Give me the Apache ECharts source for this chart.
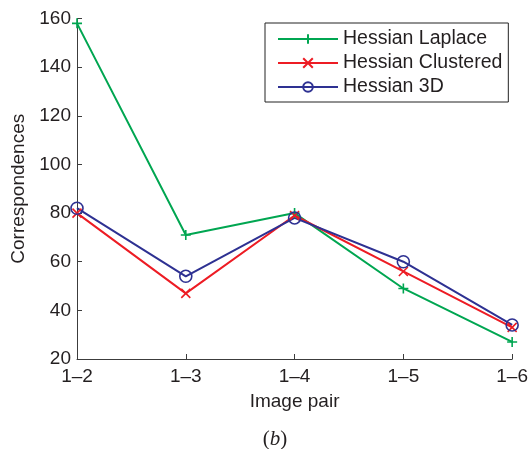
<!DOCTYPE html>
<html>
<head>
<meta charset="utf-8">
<script src="https://cdn.jsdelivr.net/npm/echarts@6/dist/echarts.min.js"></script>
<style>
html,body{margin:0;padding:0;background:#fff;}
#chart{width:531px;height:449px;}
</style>
</head>
<body>
<div id="chart"></div>
<script>
const categories = ['1\u20132', '1\u20133', '1\u20134', '1\u20135', '1\u20136'];
const hessianLaplace = [158, 71, 80, 49, 27];
const hessianClustered = [80, 47, 79, 56, 33];
const hessian3D = [82, 54, 78, 60, 34];
const seriesNames = ['Hessian Laplace', 'Hessian Clustered', 'Hessian 3D'];

const TXT = '#231f20';
const AX = '#3c3c3c';
const FONT = '"Liberation Sans", Arial, sans-serif';

function mkSeries(name, data, color, symbol, size) {
  return {
    name: name,
    type: 'line',
    data: data,
    symbol: symbol,
    symbolSize: size,
    showAllSymbol: true,
    lineStyle: { color: color, width: 2 },
    itemStyle: { color: 'rgba(0,0,0,0)', borderColor: color, borderWidth: 1.6 },
    emphasis: { disabled: true },
    animation: false
  };
}

const chart = echarts.init(document.getElementById('chart'), null, { renderer: 'canvas' });
chart.setOption({
  backgroundColor: '#fff',
  animation: false,
  grid: { left: 77, right: 12, top: 18.5, bottom: 90, containLabel: false },
  legend: {
    orient: 'vertical',
    left: 265,
    top: 23,
    data: seriesNames,
    itemWidth: 60,
    itemHeight: 12,
    itemGap: 0,
    itemTextGap: 7,
    padding: [4, 6, 3, 12],
    borderColor: '#222',
    borderWidth: 1,
    backgroundColor: '#fff',
    textStyle: { color: TXT, fontSize: 19.5, fontFamily: FONT, lineHeight: 24 }
  },
  xAxis: {
    type: 'category',
    data: categories,
    boundaryGap: false,
    name: 'Image pair',
    nameLocation: 'middle',
    nameGap: 33,
    nameTextStyle: { color: TXT, fontSize: 19, fontFamily: FONT },
    axisLine: { lineStyle: { color: AX, width: 1 } },
    axisTick: { inside: true, length: 5, alignWithLabel: true, lineStyle: { color: AX } },
    axisLabel: { color: TXT, fontSize: 19, fontFamily: FONT, margin: 8 },
    splitLine: { show: false }
  },
  yAxis: {
    type: 'value',
    min: 20,
    max: 160,
    interval: 20,
    name: 'Correspondences',
    nameLocation: 'middle',
    nameGap: 48,
    nameTextStyle: { color: TXT, fontSize: 19, fontFamily: FONT },
    axisLine: { show: true, lineStyle: { color: AX, width: 1 } },
    axisTick: { show: true, inside: true, length: 5, lineStyle: { color: AX } },
    axisLabel: { color: TXT, fontSize: 19, fontFamily: FONT, margin: 6 },
    splitLine: { show: false }
  },
  graphic: [{
    type: 'text',
    x: 275,
    y: 439,
    style: {
      text: '{n|(}{i|b}{n|)}',
      align: 'center',
      verticalAlign: 'middle',
      rich: {
        n: { fontFamily: '"Liberation Serif", "Times New Roman", serif', fontSize: 21, fill: TXT, color: TXT },
        i: { fontFamily: '"Liberation Serif", "Times New Roman", serif', fontSize: 21, fontStyle: 'italic', fill: TXT, color: TXT }
      }
    }
  }],
  series: [
    mkSeries(seriesNames[0], hessianLaplace, '#00a651', 'path://M0,5L10,5M5,0L5,10', 10),
    mkSeries(seriesNames[1], hessianClustered, '#ed1c24', 'path://M0,0L10,10M10,0L0,10', 9),
    mkSeries(seriesNames[2], hessian3D, '#2e3192', 'circle', 12)
  ]
});
</script>
</body>
</html>
